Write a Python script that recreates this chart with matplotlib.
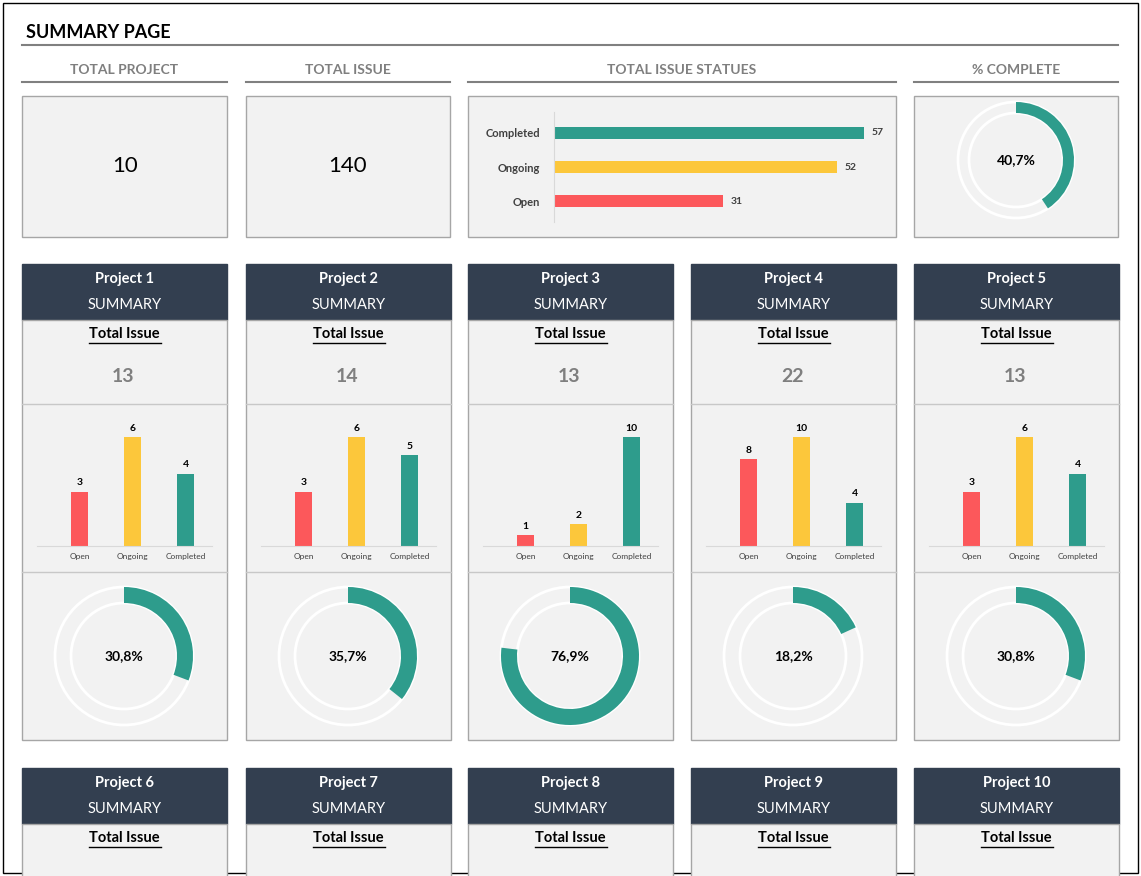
import numpy as np
import matplotlib
matplotlib.use("Agg")
import matplotlib.pyplot as plt
from matplotlib.patches import Rectangle, Wedge, Circle

plt.rcParams['font.family'] = ['Lato', 'DejaVu Sans']

total_projects = 10
status_names = ["Completed", "Ongoing", "Open"]
status_values = [57, 52, 31]
status_colors = ["#2e9c8c", "#fcc73b", "#fc585b"]

projects = ["Project %d" % i for i in range(1, 11)]
open_vals = [3, 3, 1, 8, 3]
ongoing_vals = [6, 6, 2, 10, 6]
completed_vals = [4, 5, 10, 4, 4]
total_issue = [13, 14, 13, 22, 13]
cat_labels = ["Open", "Ongoing", "Completed"]
bar_colors = ["#fc585b", "#fcc73b", "#2e9c8c"]

W, H = 1141, 876
TEAL = "#2e9c8c"
DARK = "#333f50"
PANEL = "#f2f2f2"
EDGE = "#a6a6a6"

fig = plt.figure(figsize=(W / 100, H / 100), dpi=100)
bg = fig.add_axes([0, 0, 1, 1])
bg.set_xlim(0, W)
bg.set_ylim(H, 0)
bg.axis("off")


def px_axes(x0, y0, x1, y1):
    return fig.add_axes([x0 / W, 1 - y1 / H, (x1 - x0) / W, (y1 - y0) / H])


def box(x0, y0, x1, y1, fc=PANEL, ec=EDGE, lw=1.0):
    bg.add_patch(Rectangle((x0, y0), x1 - x0, y1 - y0, fc=fc, ec=ec, lw=lw))


def donut(cx, cy, r_out, r_in, frac, label, fs):
    bg.add_patch(Circle((cx, cy), r_out, fill=False, ec="white", lw=2))
    bg.add_patch(Circle((cx, cy), r_in, fill=False, ec="white", lw=2))
    bg.add_patch(Wedge((cx, cy), r_out, 270, 270 + 360 * frac,
                       width=r_out - r_in, fc=TEAL, ec="none"))
    bg.text(cx, cy, label, ha="center", va="center", fontsize=fs,
            fontweight="bold", color="black")


def pct(v):
    return ("%.1f%%" % (100 * v)).replace(".", ",")


# outer border and title
bg.add_patch(Rectangle((3, 3), W - 6, H - 6, fill=False, ec="black", lw=1))
bg.text(26, 32, "SUMMARY PAGE", fontsize=13, fontweight="bold", va="center")
bg.plot([22, 1118], [45, 45], color="#808080", lw=1.5)

headers = [("TOTAL PROJECT", 22, 227), ("TOTAL ISSUE", 246, 450),
           ("TOTAL ISSUE STATUES", 468, 896), ("% COMPLETE", 914, 1118)]
for name, a, b in headers:
    bg.text((a + b) / 2, 70, name, ha="center", va="center", fontsize=10,
            fontweight="bold", color="#7f7f7f")
    bg.plot([a, b], [82, 82], color="#808080", lw=1.5)
    box(a, 96, b, 237)

bg.text(125, 166, str(total_projects), ha="center", va="center", fontsize=16)
bg.text(348, 166, str(sum(status_values)), ha="center", va="center", fontsize=16)

# status bar chart
ax = px_axes(554, 112, 864, 222)
ax.set_facecolor("none")
ypos = np.arange(len(status_values))
ax.barh(ypos, status_values, height=0.35, color=status_colors)
ax.set_xlim(0, max(status_values))
ax.set_ylim(2.6, -0.6)
for s in ["top", "right", "bottom"]:
    ax.spines[s].set_visible(False)
ax.spines["left"].set_color("#d9d9d9")
ax.set_xticks([])
ax.set_yticks(ypos)
ax.set_yticklabels(status_names, fontsize=8, fontweight="bold", color="#404040")
ax.tick_params(axis="y", length=0, pad=10)
for y, v in zip(ypos, status_values):
    ax.text(v + 1.4, y, str(v), va="center", fontsize=7.5, fontweight="bold",
            color="#404040", clip_on=False)

complete_pct = status_values[0] / sum(status_values)
donut(1016, 160, 58, 47, complete_pct, pct(complete_pct), 10)

# project cards
cols = [22, 246, 468, 691, 914]
cw = 205


def card_header(x0, y0, name):
    box(x0, y0, x0 + cw, y0 + 56, fc=DARK, ec=DARK)
    bg.text(x0 + cw / 2, y0 + 15, name, ha="center", va="center", fontsize=10.5,
            fontweight="bold", color="white")
    bg.text(x0 + cw / 2, y0 + 41, "SUMMARY", ha="center", va="center",
            fontsize=10.5, color="white")


def total_label(x0, y):
    t = bg.text(x0 + cw / 2, y, "Total Issue", ha="center", va="center",
                fontsize=10.5, fontweight="bold", color="black")
    bg.plot([x0 + cw / 2 - 36, x0 + cw / 2 + 36], [y + 9, y + 9], color="black", lw=1)


for i in range(5):
    x0 = cols[i]
    card_header(x0, 264, projects[i])
    box(x0, 320, x0 + cw, 740)
    bg.plot([x0, x0 + cw], [404, 404], color="#c8c8c8", lw=1)
    bg.plot([x0, x0 + cw], [572, 572], color="#c8c8c8", lw=1)
    total_label(x0, 334)
    bg.text(x0 + cw / 2 - 1, 376, str(total_issue[i]), ha="center", va="center",
            fontsize=14, fontweight="bold", color="#7f7f7f")

    vals = [open_vals[i], ongoing_vals[i], completed_vals[i]]
    ax = px_axes(x0 + 15, 420, x0 + 190, 546)
    ax.set_facecolor("none")
    xs = np.arange(3)
    ax.bar(xs, vals, width=0.32, color=bar_colors)
    ax.set_xlim(-0.8, 2.5)
    ax.set_ylim(0, max(vals) * 1.16)
    for s in ["top", "right", "left"]:
        ax.spines[s].set_visible(False)
    ax.spines["bottom"].set_color("#d9d9d9")
    ax.set_yticks([])
    ax.set_xticks(xs)
    ax.set_xticklabels(cat_labels, fontsize=6, color="#404040")
    ax.tick_params(axis="x", length=0, pad=5)
    for xv, v in zip(xs, vals):
        ax.text(xv, v + max(vals) * 0.04, str(v), ha="center", va="bottom",
                fontsize=7.5, fontweight="bold")

    frac = completed_vals[i] / total_issue[i]
    donut(x0 + 102, 656, 69, 53, frac, pct(frac), 10)

for i in range(5):
    x0 = cols[i]
    card_header(x0, 768, projects[i + 5])
    box(x0, 824, x0 + cw, 900)
    total_label(x0, 838)

fig.savefig("out.png", dpi=100)
